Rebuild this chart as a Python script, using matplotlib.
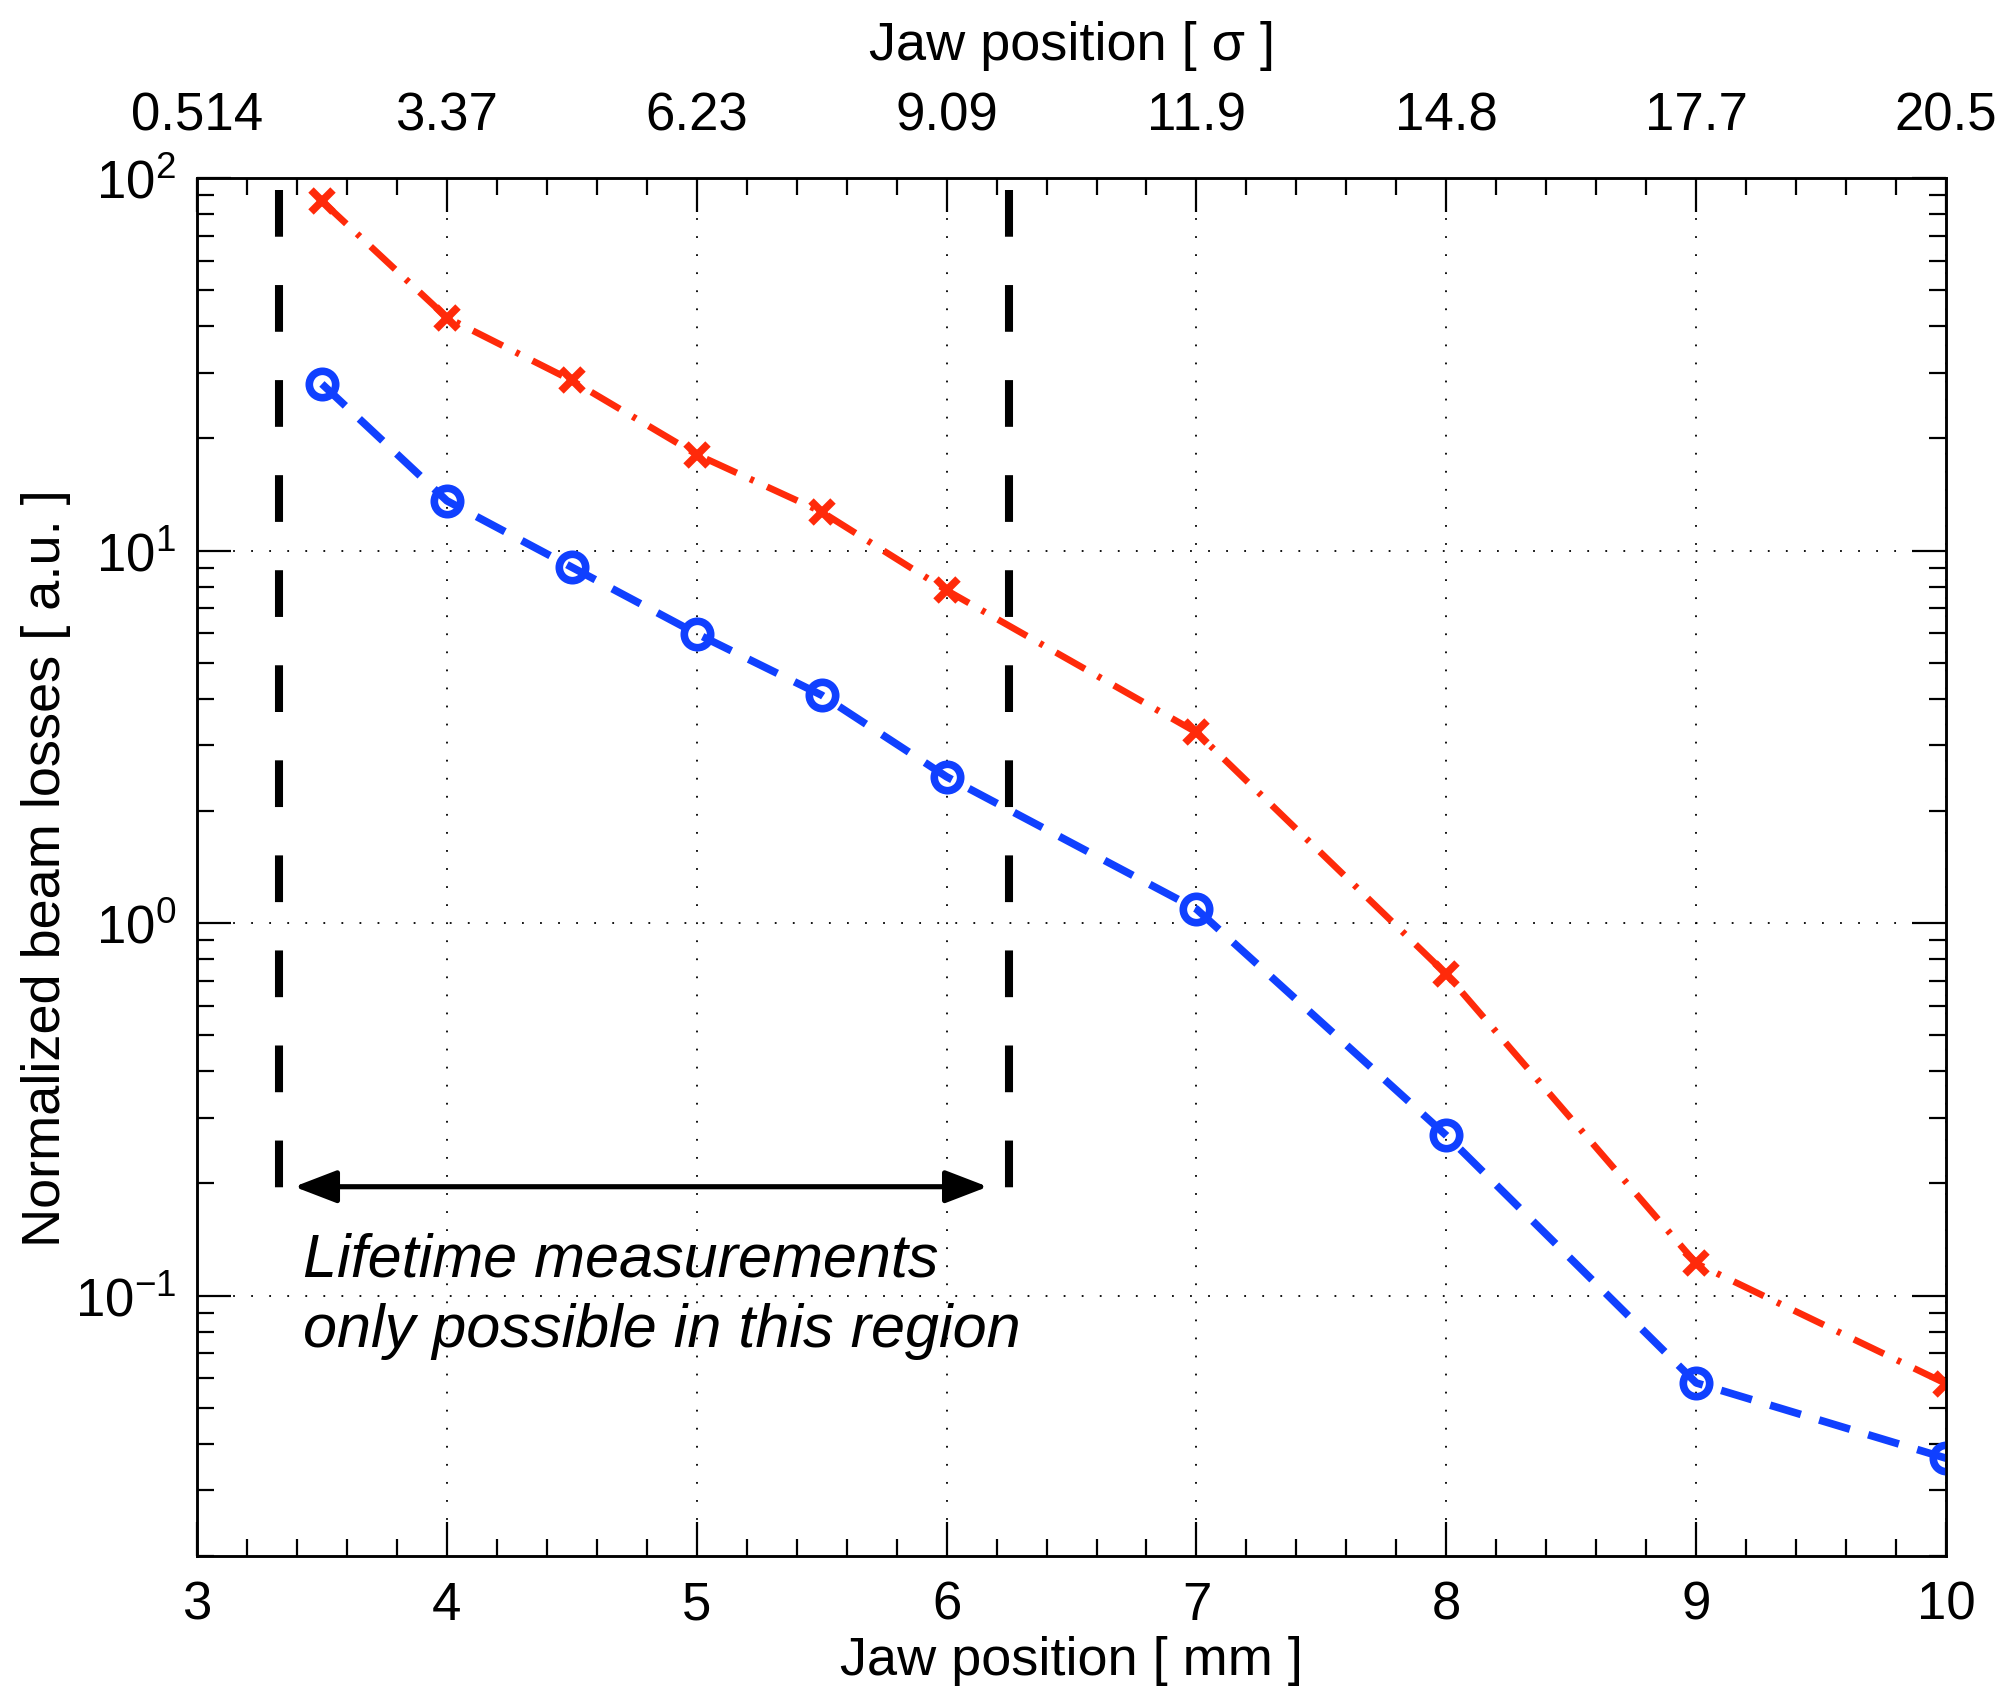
import matplotlib
matplotlib.use("Agg")
import matplotlib.pyplot as plt
from matplotlib.ticker import MultipleLocator, LogLocator, NullFormatter

# jaw position in mm and the two measured loss curves
jaw_mm = [3.5, 4.0, 4.5, 5.0, 5.5, 6.0, 7.0, 8.0, 9.0, 10.0]
loss_red = [86.7, 42.2, 28.6, 18.1, 12.7, 7.82, 3.25, 0.729, 0.122, 0.058]
loss_blue = [28.0, 13.6, 9.02, 5.98, 4.09, 2.47, 1.09, 0.269, 0.0583, 0.0366]

# top axis: same positions, labelled in sigma
mm_ticks = [3, 4, 5, 6, 7, 8, 9, 10]
sigma_labels = ["0.514", "3.37", "6.23", "9.09", "11.9", "14.8", "17.7", "20.5"]

# region where lifetime measurements are possible
region_edges = [3.33, 6.25]
region_y = [93.0, 0.18]
arrow_x = [3.389, 6.165]
arrow_y = 0.196


def main():
    plt.rcParams['font.family'] = ['Liberation Sans', 'DejaVu Sans']
    plt.rcParams['mathtext.default'] = 'regular'
    plt.rcParams['axes.unicode_minus'] = False

    fig = plt.figure(figsize=(20.04, 16.9), dpi=100)
    ax = fig.add_axes([0.0983, 0.0787, 0.8728, 0.8154])
    ax.set_yscale('log')
    ax.set_xlim(3, 10)
    ax.set_ylim(0.02, 100)

    ax.grid(True, which='major', color='k', lw=1.3, linestyle=(0, (1, 9)))

    for x in region_edges:
        ax.plot([x, x], region_y, color='k', lw=5.8, dashes=(5.8, 6.0))

    ax.plot(jaw_mm, loss_red, color='#ff2a0a', lw=4.8, dashes=(5, 2.2, 0.6, 2.2),
            marker='x', ms=16, mew=5.5, zorder=4)
    ax.plot(jaw_mm, loss_blue, color='#1040ff', lw=5.5, dashes=(4.2, 2.5),
            marker='o', ms=19, mew=5.5, mfc='none', zorder=4)

    ax.annotate('', xy=(arrow_x[1], arrow_y), xytext=(arrow_x[0], arrow_y),
                arrowprops=dict(arrowstyle='<|-|>,head_length=0.65,head_width=0.25',
                                lw=3.7, color='k', mutation_scale=40,
                                shrinkA=0, shrinkB=0))
    # baseline of the last line
    ax.text(3.424, 0.0734, "Lifetime measurements\nonly possible in this region",
            fontsize=44, style='italic', va='baseline', linespacing=1.3)

    ax.set_xticks(mm_ticks)
    ax.xaxis.set_minor_locator(MultipleLocator(0.2))
    ax.yaxis.set_major_locator(LogLocator(base=10))
    ax.yaxis.set_minor_locator(LogLocator(base=10, subs=range(2, 10)))
    ax.yaxis.set_minor_formatter(NullFormatter())
    ax.tick_params(which='both', direction='in', top=False, right=True, width=1.6)
    ax.tick_params(which='major', length=24.5, labelsize=38)
    ax.tick_params(which='minor', length=12)
    ax.tick_params(axis='x', pad=17)
    ax.tick_params(axis='y', pad=15)

    ax.set_xlabel("Jaw position [ mm ]", fontsize=39, labelpad=4)
    ax.set_ylabel("Normalized beam losses [ a.u. ]", fontsize=39, labelpad=2.5)

    ax2 = ax.twiny()
    ax2.set_xlim(ax.get_xlim())
    ax2.set_xticks(mm_ticks)
    ax2.set_xticklabels(sigma_labels)
    ax2.xaxis.set_minor_locator(MultipleLocator(0.2))
    ax2.tick_params(which='both', direction='in', width=1.6)
    ax2.tick_params(which='major', length=24.5, labelsize=38, pad=27)
    ax2.tick_params(which='minor', length=12)
    ax2.set_xlabel("Jaw position [ σ ]", fontsize=39, labelpad=23)

    for a in (ax, ax2):
        for s in a.spines.values():
            s.set_linewidth(1.8)

    fig.savefig('out.png', dpi=100)


if __name__ == "__main__":
    main()
